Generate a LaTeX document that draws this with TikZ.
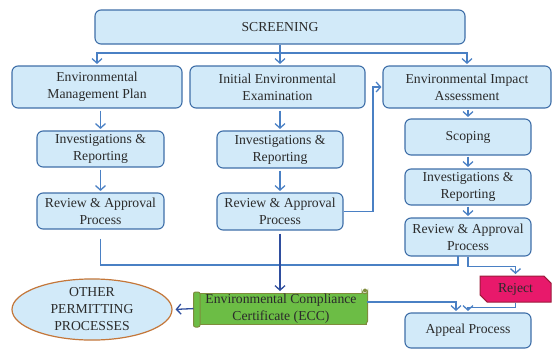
\documentclass[tikz,border=0pt]{standalone}
\usepackage{fontspec}
\setmainfont{Liberation Serif}
\usetikzlibrary{arrows.meta,shapes.geometric,shapes.misc,calc}
\definecolor{boxfill}{HTML}{D2EAF9}
\definecolor{boxline}{HTML}{3F6FA8}
\definecolor{conn}{HTML}{4A80C4}
\definecolor{navyc}{HTML}{2F4E9E}
\definecolor{txt}{HTML}{2B2B2B}
\definecolor{eccgreen}{HTML}{6CBD45}
\definecolor{eccline}{HTML}{7E8C3C}
\definecolor{rejfill}{HTML}{E8196B}
\definecolor{rejline}{HTML}{9B1B3A}
\definecolor{ellline}{HTML}{C4773A}
\begin{document}
\begin{tikzpicture}[x=1pt,y=-1pt,
  box/.style={draw=boxline, line width=1.1pt, fill=boxfill, rounded corners=6pt,
    align=center, text=txt, font=\fontsize{13.7}{17}\selectfont, inner sep=0pt},
  ln/.style={draw=conn, line width=1.3pt},
  arr/.style={ln, -{Straight Barb[length=4.5pt,width=10pt,line width=1.3pt]}, shorten >=1.5pt},
  navyarr/.style={draw=navyc, line width=1.3pt, -{Straight Barb[length=4.5pt,width=10pt,line width=1.3pt]}, shorten >=1.5pt}
]
\useasboundingbox (0,0) rectangle (552,349);

% boxes
\node[box, minimum width=370pt, minimum height=34pt] (scr) at (280,27) {SCREENING};
\node[box, minimum width=170pt, minimum height=42pt] (emp) at (97,87) {Environmental\\Management Plan};
\node[box, minimum width=175pt, minimum height=42pt] (iee) at (277.5,87) {Initial Environmental\\Examination};
\node[box, minimum width=168pt, minimum height=42pt] (eia) at (467,87) {Environmental Impact\\Assessment};

\node[box, minimum width=127pt, minimum height=36pt] (empinv) at (100.5,149) {Investigations \&\\Reporting};
\node[box, minimum width=126pt, minimum height=37pt] (ieeinv) at (280,149.5) {Investigations \&\\Reporting};
\node[box, minimum width=126pt, minimum height=36pt] (scop) at (468,137) {Scoping};
\node[box, minimum width=126pt, minimum height=36pt] (eiainv) at (468,187) {Investigations \&\\Reporting};

\node[box, minimum width=127pt, minimum height=36pt] (emprev) at (100.5,211) {Review \& Approval\\Process};
\node[box, minimum width=126pt, minimum height=37pt] (ieerev) at (280,211.5) {Review \& Approval\\Process};
\node[box, minimum width=126pt, minimum height=38pt] (eiarev) at (468,237) {Review \& Approval\\Process};

\node[box, minimum width=126pt, minimum height=35pt] (appeal) at (468,330.5) {Appeal Process};

\node[draw=rejline, line width=1pt, fill=rejfill, chamfered rectangle,
  chamfered rectangle corners={north east,south west}, chamfered rectangle xsep=4pt,
  minimum width=71pt, minimum height=26pt, inner sep=0pt, text=txt,
  font=\fontsize{13.7}{17}\selectfont] (rej) at (515.5,289) {Reject};

\node[ellipse, draw=ellline, line width=1.2pt, fill=boxfill, minimum width=160pt,
  minimum height=61pt, inner sep=0pt, align=center, text=txt,
  font=\fontsize{13.7}{17}\selectfont] (ell) at (92,309.5) {OTHER\\PERMITTING\\PROCESSES};

% ECC scroll
\node[draw=eccline, line width=1pt, fill=eccgreen, minimum width=170pt, minimum height=31pt,
  inner sep=0pt, align=center, text=txt, font=\fontsize{13.7}{17}\selectfont] (ecc) at (281,308.5)
  {Environmental Compliance\\Certificate (ECC)};
\draw[eccline, line width=1pt, fill=eccgreen, rounded corners=2pt] (193.5,292) rectangle (200,327);
\draw[eccline, line width=1pt, fill=eccgreen] (362,293) -- (362,291) arc[start angle=180, end angle=0, radius=2.8] -- (367.6,321) -- (366,324);
\fill[eccline] (365,290.5) circle (2pt);

% connectors
\coordinate (sj) at (280,53);
\draw[ln] (scr.south) -- (sj);
\draw[arr] (sj) -| (emp.north);
\draw[arr] (sj) -| (eia.north);
\draw[arr] (sj) -- (sj |- iee.north);

\draw[arr, shorten <=2pt] (emp.south -| empinv.north) -- (empinv.north);
\draw[arr, shorten <=2pt] (empinv.south) -- (emprev.north);
\draw[arr, shorten <=2pt] (iee.south -| ieeinv.north) -- (ieeinv.north);
\draw[arr, shorten <=2pt] (ieeinv.south) -- (ieerev.north);
\draw[arr, shorten <=1pt] (eia.south -| scop.north) -- (scop.north);
\draw[arr, shorten <=1pt] (scop.south) -- (eiainv.north);
\draw[arr, shorten <=1pt] (eiainv.south) -- (eiarev.north);

\draw[arr, shorten >=1pt] (ieerev.east) -| (373,150) |- (eia.west);

\draw[ln] ($(emprev.south)+(0,9)$) |- (458,265) -- (458,256);
\draw[arr] (eiarev.south) -- ++(0,10) -| (rej.north);
\draw[navyarr, shorten <=3pt] (ieerev.south) -- (ieerev.south |- ecc.north);
\draw[navyarr, shorten <=2pt, shorten >=3pt] (ecc.west) -- (ell.east);
\draw[arr] ($(ecc.east)+(0,-6.5)$) -| ($(appeal.north)+(-12,0)$);
\draw[arr] (rej.south) -- ++(0,5) -| (appeal.north);
\end{tikzpicture}
\end{document}
